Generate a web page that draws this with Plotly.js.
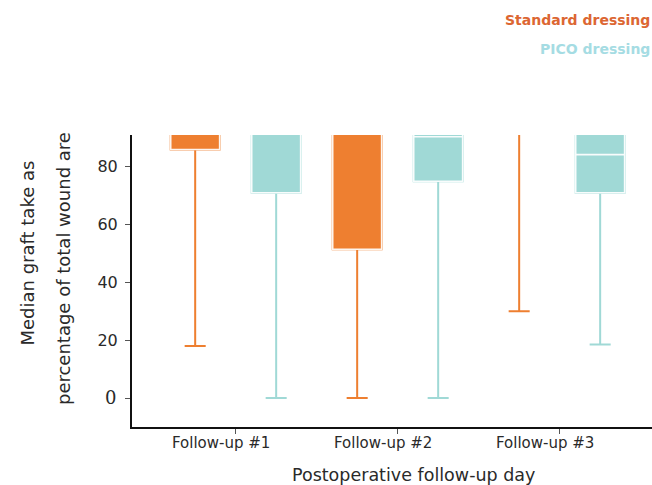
<!DOCTYPE html>
<html>
<head>
<meta charset="utf-8">
<script src="https://cdn.plot.ly/plotly-3.0.1.min.js"></script>
<style>html,body{margin:0;padding:0;background:#fff;}#chart{width:652px;height:485px;}</style>
</head>
<body>
<div id="chart"></div>
<script>
const categories = ["Follow-up #1", "Follow-up #2", "Follow-up #3"];
const stdMin    = [18, 0, 30];
const stdQ1     = [86, 51.5, 95];
const stdMedian = [95, 95, 100];
const stdQ3     = [100, 100, 100];
const stdMax    = [100, 100, 100];
const picoMin    = [0, 0, 18.5];
const picoQ1     = [71, 75, 71];
const picoMedian = [95, 90.4, 84.2];
const picoQ3     = [100, 100, 100];
const picoMax    = [100, 100, 100];
const yTicks = [0, 20, 40, 60, 80];
const yTickText = ["", "20", "40", "60", "80"];
const zeroLabel = "0";
const yTitleLines = ["Median graft take as", "percentage of total wound are"];
const xTitle = "Postoperative follow-up day";

const ORANGE = "#EE7F30";
const TEAL = "#A0D9D6";
const FONT = "DejaVu Sans, sans-serif";
const TXT = "#2a2a2a";

function whiskerTrace(name, group, q1, med, q3, lo, hi, color) {
  return {
    type: "box", name: name, x: categories, q1: q1, median: med, q3: q3,
    lowerfence: lo, upperfence: hi, offsetgroup: group, alignmentgroup: "a",
    fillcolor: color, line: {color: color, width: 2}, whiskerwidth: 0.43,
    boxpoints: false, hoverinfo: "skip", showlegend: false
  };
}
function boxTrace(name, group, q1, med, q3, color) {
  return {
    type: "box", name: name, x: categories, q1: q1, median: med, q3: q3,
    lowerfence: q1, upperfence: q3, offsetgroup: group, alignmentgroup: "a",
    fillcolor: color, line: {color: "rgba(255,255,255,0.92)", width: 1.6}, whiskerwidth: 0,
    boxpoints: false, showlegend: false
  };
}

const data = [
  whiskerTrace("Standard dressing", "std", stdQ1, stdMedian, stdQ3, stdMin, stdMax, ORANGE),
  whiskerTrace("PICO dressing", "pico", picoQ1, picoMedian, picoQ3, picoMin, picoMax, TEAL),
  boxTrace("Standard dressing", "std", stdQ1, stdMedian, stdQ3, ORANGE),
  boxTrace("PICO dressing", "pico", picoQ1, picoMedian, picoQ3, TEAL)
];

const annotations = [
  {text: "<b>Standard dressing</b>", xref: "paper", yref: "paper", x: 1, y: 1, xanchor: "right", yanchor: "middle",
   yshift: 115, showarrow: false, font: {family: FONT, size: 14, color: "#DC6632"}},
  {text: "<b>PICO dressing</b>", xref: "paper", yref: "paper", x: 1, y: 1, xanchor: "right", yanchor: "middle",
   yshift: 86, showarrow: false, font: {family: FONT, size: 14, color: "#A5DCE3"}},
  {text: yTitleLines[0], xref: "paper", yref: "paper", x: 0, y: 0.594, xanchor: "center", yanchor: "middle",
   xshift: -104, textangle: -90, showarrow: false, font: {family: FONT, size: 18, color: TXT}},
  {text: yTitleLines[1], xref: "paper", yref: "paper", x: 0, y: 0.541, xanchor: "center", yanchor: "middle",
   xshift: -69, textangle: -90, showarrow: false, font: {family: FONT, size: 18, color: TXT}},
  {text: xTitle, xref: "paper", yref: "paper", x: 0.5, y: 0, xanchor: "center", yanchor: "middle",
   xshift: 21, yshift: -48, showarrow: false, font: {family: FONT, size: 17.5, color: TXT}},
  {text: zeroLabel, xref: "paper", yref: "y", x: 0, y: 0, xanchor: "right", yanchor: "middle",
   xshift: -14, yshift: 1, showarrow: false, font: {family: "DejaVu Serif, serif", size: 18, color: TXT}}
];
categories.forEach(function (c) {
  annotations.push({text: c, xref: "x", yref: "paper", x: c, y: 0, xanchor: "center", yanchor: "middle",
    xshift: -15, yshift: -16, showarrow: false, font: {family: FONT, size: 15, color: TXT}});
});

const layout = {
  width: 652, height: 485,
  margin: {l: 132, r: 0, t: 135, b: 58},
  paper_bgcolor: "#fff", plot_bgcolor: "#fff",
  font: {family: FONT, color: TXT, size: 14},
  boxmode: "group", boxgap: 0, boxgroupgap: 0.396,
  showlegend: false,
  xaxis: {
    type: "category", range: [-0.64, 2.57],
    showline: true, linecolor: "#111", linewidth: 2,
    ticks: "outside", ticklen: 5, tickcolor: "#555", tickwidth: 1,
    showgrid: false, zeroline: false, showticklabels: false
  },
  yaxis: {
    range: [-10, 91], tickvals: yTicks, ticktext: yTickText,
    showline: true, linecolor: "#111", linewidth: 2,
    ticks: "outside", ticklen: 5, tickcolor: "#555", tickwidth: 1,
    showgrid: false, zeroline: false, ticklabelstandoff: 4,
    tickfont: {family: FONT, size: 16, color: TXT}
  },
  annotations: annotations
};

Plotly.newPlot("chart", data, layout, {displayModeBar: false, staticPlot: true});
</script>
</body>
</html>
